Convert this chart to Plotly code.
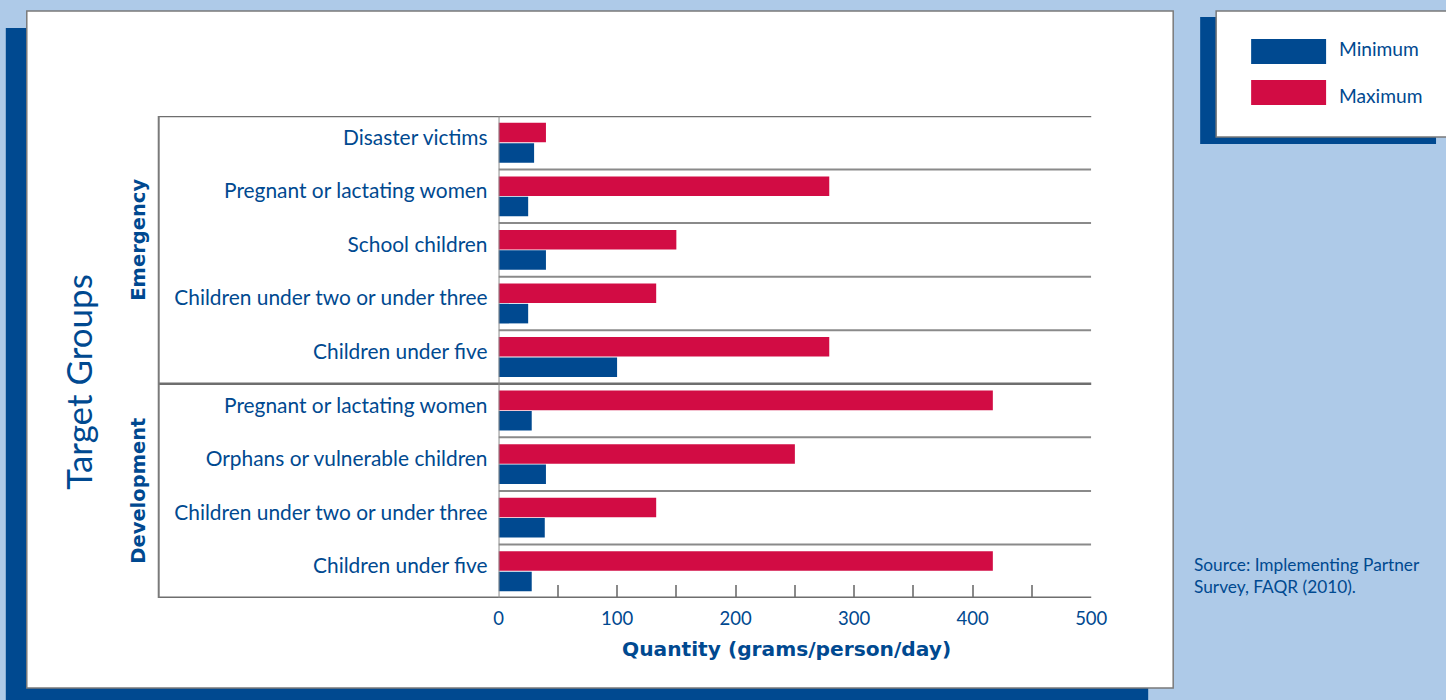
import plotly.graph_objects as go

# ---- data ----
categories = [
    "Disaster victims",
    "Pregnant or lactating women",
    "School children",
    "Children under two or under three",
    "Children under five",
    "Pregnant or lactating women",
    "Orphans or vulnerable children",
    "Children under two or under three",
    "Children under five",
]
groups = ["Emergency", "Emergency", "Emergency", "Emergency", "Emergency",
          "Development", "Development", "Development", "Development"]
minimum = [30, 25, 40, 25, 100, 28, 40, 39, 28]
maximum = [40, 279, 150, 133, 279, 417, 250, 133, 417]
x_ticks = [0, 100, 200, 300, 400, 500]
x_minor = [50, 150, 250, 350, 450]

W, H = 1446, 700
BLUE = "#004990"
RED = "#d20c44"
BG = "#aecae8"
GRID = "#8a8a8a"
FONT = "Lato"
BOLDFONT = "DejaVu Sans"

n = len(categories)
ypos = list(range(n - 1, -1, -1))  # top category drawn at top
LABEL_SHIFT = 0.1  # labels sit slightly above the band centre

# horizontal calibration of the capture (observed in render)
SX, OX = 0.986, 4.2


def px(x):
    return ((x - OX) / SX) / W


def py(y):
    return 1 - y / H


fig = go.Figure()
fig.add_trace(go.Bar(name="Minimum", x=minimum, y=ypos, orientation="h",
                     marker=dict(color=BLUE, line=dict(width=0))))
fig.add_trace(go.Bar(name="Maximum", x=maximum, y=ypos, orientation="h",
                     marker=dict(color=RED, line=dict(width=0))))

shapes = []
# background panel with shadow
shapes.append(dict(type="rect", xref="paper", yref="paper", x0=px(5), x1=px(1148),
                   y0=py(702), y1=py(28), fillcolor=BLUE, line=dict(width=0), layer="below"))
shapes.append(dict(type="rect", xref="paper", yref="paper", x0=px(26), x1=px(1173),
                   y0=py(688), y1=py(11), fillcolor="white",
                   line=dict(color="#7a7a7a", width=1.5), layer="below"))
# legend box with shadow
shapes.append(dict(type="rect", xref="paper", yref="paper", x0=px(1200), x1=px(1436),
                   y0=py(144), y1=py(17), fillcolor=BLUE, line=dict(width=0), layer="below"))
shapes.append(dict(type="rect", xref="paper", yref="paper", x0=px(1216), x1=px(1460),
                   y0=py(137), y1=py(11), fillcolor="white",
                   line=dict(color="#7a7a7a", width=1.5), layer="below"))
# legend swatches
shapes.append(dict(type="rect", xref="paper", yref="paper", x0=px(1251), x1=px(1326),
                   y0=py(64), y1=py(39), fillcolor=BLUE, line=dict(width=0)))
shapes.append(dict(type="rect", xref="paper", yref="paper", x0=px(1251), x1=px(1326),
                   y0=py(105), y1=py(80), fillcolor=RED, line=dict(width=0)))

# separators between categories (within plot)
for k in range(n - 1):
    yk = k + 0.5
    if k == 3:  # group divider extends to left border
        shapes.append(dict(type="line", xref="paper", yref="y", x0=px(158), x1=px(1091),
                           y0=yk, y1=yk, line=dict(color="#6e6e6e", width=2.5)))
    else:
        shapes.append(dict(type="line", xref="x", yref="y", x0=0, x1=500,
                           y0=yk, y1=yk, line=dict(color=GRID, width=2)))
# top and bottom frame
shapes.append(dict(type="line", xref="paper", yref="y", x0=px(158), x1=px(1091),
                   y0=n - 0.5, y1=n - 0.5, line=dict(color="#6e6e6e", width=2.5)))
shapes.append(dict(type="line", xref="paper", yref="y", x0=px(158), x1=px(1091),
                   y0=-0.5, y1=-0.5, line=dict(color="#6e6e6e", width=3)))
# left border
shapes.append(dict(type="line", xref="paper", yref="y", x0=px(158), x1=px(158),
                   y0=-0.5, y1=n - 0.5, line=dict(color="#7a7a7a", width=2)))
# zero line
shapes.append(dict(type="line", xref="x", yref="y", x0=0, x1=0,
                   y0=-0.5, y1=n - 0.5, line=dict(color=GRID, width=2)))

annotations = [
    dict(text="Minimum", xref="paper", yref="paper", x=px(1337), y=py(48),
         xanchor="left", yanchor="middle", showarrow=False,
         font=dict(family=FONT, size=19.2, color=BLUE)),
    dict(text="Maximum", xref="paper", yref="paper", x=px(1337), y=py(96),
         xanchor="left", yanchor="middle", showarrow=False,
         font=dict(family=FONT, size=19.2, color=BLUE)),
    dict(text="Source: Implementing Partner<br>Survey, FAQR (2010).", xref="paper", yref="paper",
         x=px(1192), y=py(575), xanchor="left", yanchor="middle", align="left", showarrow=False,
         font=dict(family=FONT, size=17.3, color=BLUE)),
    dict(text="<b>Quantity (grams/person/day)</b>", xref="paper", yref="paper",
         x=px(786), y=py(649), xanchor="center", yanchor="middle", showarrow=False,
         font=dict(family=BOLDFONT, size=20.2, color=BLUE)),
    dict(text="Target Groups", xref="paper", yref="paper", x=px(77), y=py(382),
         xanchor="center", yanchor="middle", textangle=-90, showarrow=False,
         font=dict(family=FONT, size=35, color=BLUE, weight=400)),
    dict(text="<b>Emergency</b>", xref="paper", yref="paper", x=px(137), y=py(240),
         xanchor="center", yanchor="middle", textangle=-90, showarrow=False,
         font=dict(family=BOLDFONT, size=19.5, color=BLUE)),
    dict(text="<b>Development</b>", xref="paper", yref="paper", x=px(137), y=py(491),
         xanchor="center", yanchor="middle", textangle=-90, showarrow=False,
         font=dict(family=BOLDFONT, size=19.5, color=BLUE)),
]

fig.update_layout(
    width=W, height=H, autosize=False,
    margin=dict(l=0, r=0, t=0, b=0, pad=0),
    paper_bgcolor=BG, plot_bgcolor="rgba(0,0,0,0)",
    barmode="group", bargap=0.24, bargroupgap=0.04,
    showlegend=False,
    shapes=shapes, annotations=annotations,
    font=dict(family=FONT, color=BLUE),
    xaxis=dict(domain=[px(498), px(1091)], range=[0, 500], tickvals=x_ticks,
               ticktext=[str(v) for v in x_ticks], showgrid=False, zeroline=False,
               showline=False, ticks="inside", ticklen=13, tickwidth=1.5, tickcolor=GRID,
               minor=dict(tickvals=x_minor, ticks="inside", ticklen=13, tickwidth=1.5,
                          tickcolor=GRID, showgrid=False),
               tickfont=dict(family=FONT, size=18.5, color=BLUE), ticklabelstandoff=7,
               fixedrange=True),
    yaxis=dict(domain=[py(598), py(116)], range=[-0.5, n - 0.5],
               tickvals=[v + LABEL_SHIFT for v in ypos],
               ticktext=categories, showgrid=False, zeroline=False, showline=False,
               ticks="", tickfont=dict(family=FONT, size=20.9, color=BLUE),
               ticklabelstandoff=10, fixedrange=True),
)

page_fix = ("document.documentElement.style.margin='0';"
            "document.documentElement.style.overflow='hidden';"
            "document.body.style.margin='0';document.body.style.padding='0';"
            "document.body.style.overflow='hidden';"
            "document.body.style.background='" + BG + "';")

fig.write_html("out.html", post_script=page_fix, config={"displayModeBar": False})
